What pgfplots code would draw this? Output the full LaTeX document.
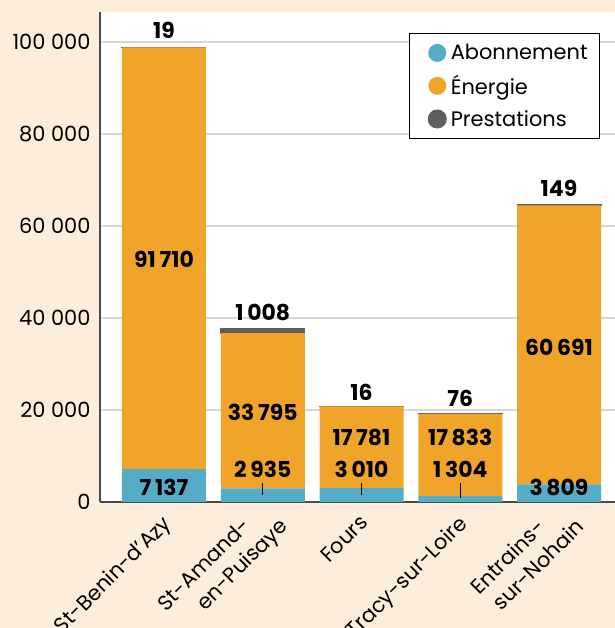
\documentclass[border=0pt]{standalone}
\usepackage{fontspec}
\setmainfont{Poppins}
\usepackage{pgfplots}
\pgfplotsset{compat=1.18}
\definecolor{abo}{HTML}{55ACC6}
\definecolor{ener}{HTML}{F0A52A}
\definecolor{prest}{HTML}{5E5E5E}
\definecolor{bg}{HTML}{FDEEDC}
\definecolor{gridc}{HTML}{DAD7D0}
\definecolor{axc}{HTML}{4A4A4A}
\begin{document}
\begin{tikzpicture}[x=1bp,y=1bp]
\useasboundingbox (0,0) rectangle (615,628);
\clip (0,0) rectangle (615,628);
\fill[bg] (0,0) rectangle (615,628);
\begin{axis}[
  at={(100bp,126bp)}, anchor=south west,
  scale only axis, width=515bp, height=490bp,
  xmin=-0.648, xmax=4.567, ymin=0, ymax=106522,
  ybar stacked, bar width=84bp,
  axis background/.style={fill=white},
  axis x line*=bottom, axis y line*=left,
  axis line style={axc, line width=1.5bp, -},
  major tick length=0pt,
  ymajorgrids, grid style={gridc, line width=1.3bp},
  ytick={0,20000,40000,60000,80000,100000},
  yticklabels={0,20 000,40 000,60 000,80 000,100 000},
  yticklabel style={font=\fontsize{21}{22}\selectfont, xshift=-6bp},
  xtick={0,2,3},
  xticklabels={St-Benin-d’Azy,Fours,Tracy-sur-Loire},
  xticklabel style={xshift=-3bp, yshift=-10bp, rotate=45, anchor=north east, font=\fontsize{21}{22}\selectfont, inner sep=1bp},
  extra x ticks={1,4},
  extra x tick labels={{St-Amand-\hspace*{26bp}\\en-Puisaye},{Entrains-\hspace*{28bp}\\sur-Nohain}},
  extra x tick style={every x tick label/.style={xshift=-4bp, yshift=6bp, rotate=45, anchor=north east, align=right, font=\fontsize{21}{27}\selectfont, inner sep=1bp}},
  legend style={at={(rel axis cs:0.971,0.957)}, anchor=north east, draw=black, line width=0.8bp, fill=white,
    font=\fontsize{21}{22}\selectfont, row sep=10bp, inner xsep=10bp, inner ysep=9bp, cells={anchor=west}},
  legend image code/.code={\fill[#1] (9bp,0) circle (9bp); \path (-8bp,0) (20bp,0);},
]
\addplot[fill=abo, draw=none] coordinates {(0,7137) (1,2935) (2,3010) (3,1304) (4,3809)};
\addlegendentry{Abonnement}
\addplot[fill=ener, draw=none] coordinates {(0,91710) (1,33795) (2,17781) (3,17833) (4,60691)};
\addlegendentry{Énergie}
\addplot[fill=prest, draw=prest, line width=1bp] coordinates {(0,19) (1,1008) (2,16) (3,76) (4,149)};
\addlegendentry{Prestations}
\coordinate (p0) at (axis cs:0,102600);
\coordinate (e0) at (axis cs:0,52830);
\coordinate (a0) at (axis cs:0,3260);
\coordinate (p1) at (axis cs:1,41090);
\coordinate (e1) at (axis cs:1,19565);
\coordinate (a1) at (axis cs:1,7170);
\coordinate (p2) at (axis cs:2,23910);
\coordinate (e2) at (axis cs:2,14130);
\coordinate (a2) at (axis cs:2,7170);
\coordinate (p3) at (axis cs:3,22600);
\coordinate (e3) at (axis cs:3,14130);
\coordinate (a3) at (axis cs:3,7170);
\coordinate (p4) at (axis cs:4,68260);
\coordinate (e4) at (axis cs:4,33700);
\coordinate (a4) at (axis cs:4,3260);
\coordinate (t1a) at (axis cs:1,1520);
\coordinate (t1b) at (axis cs:1,4130);
\coordinate (t2a) at (axis cs:2,1520);
\coordinate (t2b) at (axis cs:2,4130);
\coordinate (t3a) at (axis cs:3,870);
\coordinate (t3b) at (axis cs:3,4130);
\end{axis}
\tikzset{lab/.style={font=\bfseries\fontsize{22}{22}\selectfont, inner sep=1bp}}
\node[lab] at (p0) {19};
\node[lab] at (e0) {91\,710};
\node[lab] at (a0) {7\,137};
\node[lab] at (p1) {1\,008};
\node[lab] at (e1) {33\,795};
\node[lab] at (a1) {2\,935};
\node[lab] at (p2) {16};
\node[lab] at (e2) {17\,781};
\node[lab] at (a2) {3\,010};
\node[lab] at (p3) {76};
\node[lab] at (e3) {17\,833};
\node[lab] at (a3) {1\,304};
\node[lab] at (p4) {149};
\node[lab] at (e4) {60\,691};
\node[lab] at (a4) {3\,809};
\draw[black, line width=1bp] (t1a) -- (t1b);
\draw[black, line width=1bp] (t2a) -- (t2b);
\draw[black, line width=1bp] (t3a) -- (t3b);
\end{tikzpicture}
\end{document}
